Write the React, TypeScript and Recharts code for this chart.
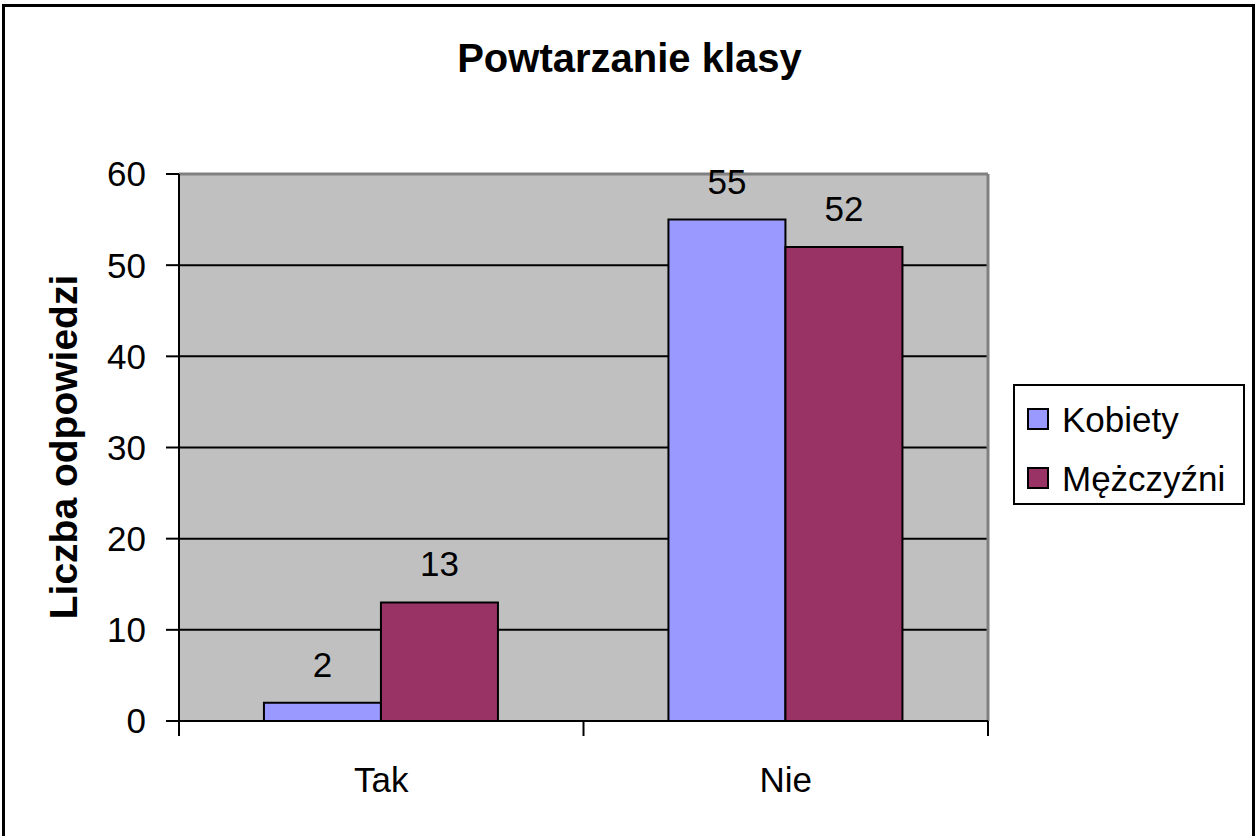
import {
  BarChart,
  Bar,
  XAxis,
  YAxis,
  CartesianGrid,
  ReferenceLine,
  Legend,
  LabelList,
  Label,
} from "recharts";

const CATEGORIES = ["Tak", "Nie"];
const KOBIETY = [2, 55];
const MEZCZYZNI = [13, 52];
const Y_TICKS = [0, 10, 20, 30, 40, 50, 60];

const FONT = "'Liberation Sans', Arial, sans-serif";
const W = 1255;
const H = 836;
const PLOT_LEFT = 179;
const PLOT_RIGHT = 988;
const BAND = (PLOT_RIGHT - PLOT_LEFT) / CATEGORIES.length;

const data = CATEGORIES.map((name, i) => ({
  name,
  kobiety: KOBIETY[i],
  mezczyzni: MEZCZYZNI[i],
}));

// tick marks sit on the category boundaries, label in the middle
function CategoryTick(props: any) {
  const { x, y, payload, index } = props;
  const left = x - BAND / 2;
  const right = x + BAND / 2;
  return (
    <g>
      {index === 0 && (
        <line x1={left} x2={left} y1={y} y2={y + 15} stroke="#000" strokeWidth={2} />
      )}
      <line x1={right} x2={right} y1={y} y2={y + 15} stroke="#000" strokeWidth={2} />
      <text
        x={x}
        y={y + 71}
        textAnchor="middle"
        fontSize={35}
        fontFamily={FONT}
        fill="#000"
      >
        {payload.value}
      </text>
    </g>
  );
}

function LegendBox({ payload }: any) {
  return (
    <div
      style={{
        position: "relative",
        width: 232,
        height: 121,
        border: "2px solid #000",
        boxSizing: "border-box",
        background: "#fff",
        fontFamily: FONT,
      }}
    >
      {(payload || []).map((item: any, i: number) => (
        <div key={item.value}>
          <div
            style={{
              position: "absolute",
              left: 12,
              top: 22 + i * 59,
              width: 22,
              height: 22,
              boxSizing: "border-box",
              border: "2px solid #000",
              background: item.color,
            }}
          />
          <div
            style={{
              position: "absolute",
              left: 47,
              top: 16 + i * 59,
              fontSize: 35,
              lineHeight: "35px",
              color: "#000",
              whiteSpace: "nowrap",
            }}
          >
            {item.value}
          </div>
        </div>
      ))}
    </div>
  );
}

export default function App() {
  return (
    <div style={{ position: "absolute", left: 0, top: 0, width: W, height: H, background: "#fff" }}>
      <div
        style={{
          position: "absolute",
          left: 2,
          top: 4,
          width: 1253,
          height: 832,
          boxSizing: "border-box",
          borderTop: "3px solid #000",
          borderLeft: "3px solid #000",
          borderRight: "3px solid #000",
        }}
      />
      <div
        style={{
          position: "absolute",
          left: 0,
          top: 38,
          width: 1259,
          textAlign: "center",
          fontFamily: FONT,
          fontWeight: "bold",
          fontSize: 40,
          lineHeight: "40px",
          color: "#000",
        }}
      >
        Powtarzanie klasy
      </div>
      <div style={{ position: "absolute", left: 0, top: 0 }}>
        <BarChart
          width={W}
          height={H}
          data={data}
          margin={{ top: 174, right: W - PLOT_RIGHT, bottom: 55, left: PLOT_LEFT - 60 }}
          barGap={0}
          barCategoryGap="21%"
        >
          <CartesianGrid
            vertical={false}
            fill="#C0C0C0"
            fillOpacity={1}
            stroke="#000"
            strokeWidth={2}
          />
          <CartesianGrid
            horizontal={false}
            verticalPoints={[PLOT_RIGHT]}
            stroke="#808080"
            strokeWidth={3}
          />
          <ReferenceLine y={60} stroke="#808080" strokeWidth={3} />
          <XAxis
            dataKey="name"
            height={60}
            axisLine={{ stroke: "#000", strokeWidth: 2 }}
            tickLine={false}
            tickSize={0}
            tickMargin={0}
            tick={<CategoryTick />}
            interval={0}
          />
          <YAxis
            width={60}
            domain={[0, 60]}
            ticks={Y_TICKS}
            interval={0}
            axisLine={{ stroke: "#000", strokeWidth: 2 }}
            tickLine={{ stroke: "#000", strokeWidth: 2 }}
            tickSize={13}
            tickMargin={20}
            tick={{ fontSize: 35, fill: "#000", fontFamily: FONT }}
          >
            <Label
              content={() => (
                <text
                  x={77}
                  y={447}
                  transform="rotate(-90, 77, 447)"
                  textAnchor="middle"
                  fontSize={39}
                  fontWeight="bold"
                  fontFamily={FONT}
                  fill="#000"
                >
                  Liczba odpowiedzi
                </text>
              )}
            />
          </YAxis>
          <Legend
            layout="vertical"
            align="center"
            verticalAlign="middle"
            wrapperStyle={{ left: 1013, top: 384, width: 232, height: 121 }}
            content={<LegendBox />}
          />
          <Bar
            dataKey="kobiety"
            name="Kobiety"
            fill="#9999FF"
            stroke="#000"
            strokeWidth={2}
            isAnimationActive={false}
          >
            <LabelList
              dataKey="kobiety"
              position="top"
              offset={26}
              fontSize={35}
              fill="#000"
              fontFamily={FONT}
            />
          </Bar>
          <Bar
            dataKey="mezczyzni"
            name="Mężczyźni"
            fill="#993366"
            stroke="#000"
            strokeWidth={2}
            isAnimationActive={false}
          >
            <LabelList
              dataKey="mezczyzni"
              position="top"
              offset={26}
              fontSize={35}
              fill="#000"
              fontFamily={FONT}
            />
          </Bar>
        </BarChart>
      </div>
    </div>
  );
}
